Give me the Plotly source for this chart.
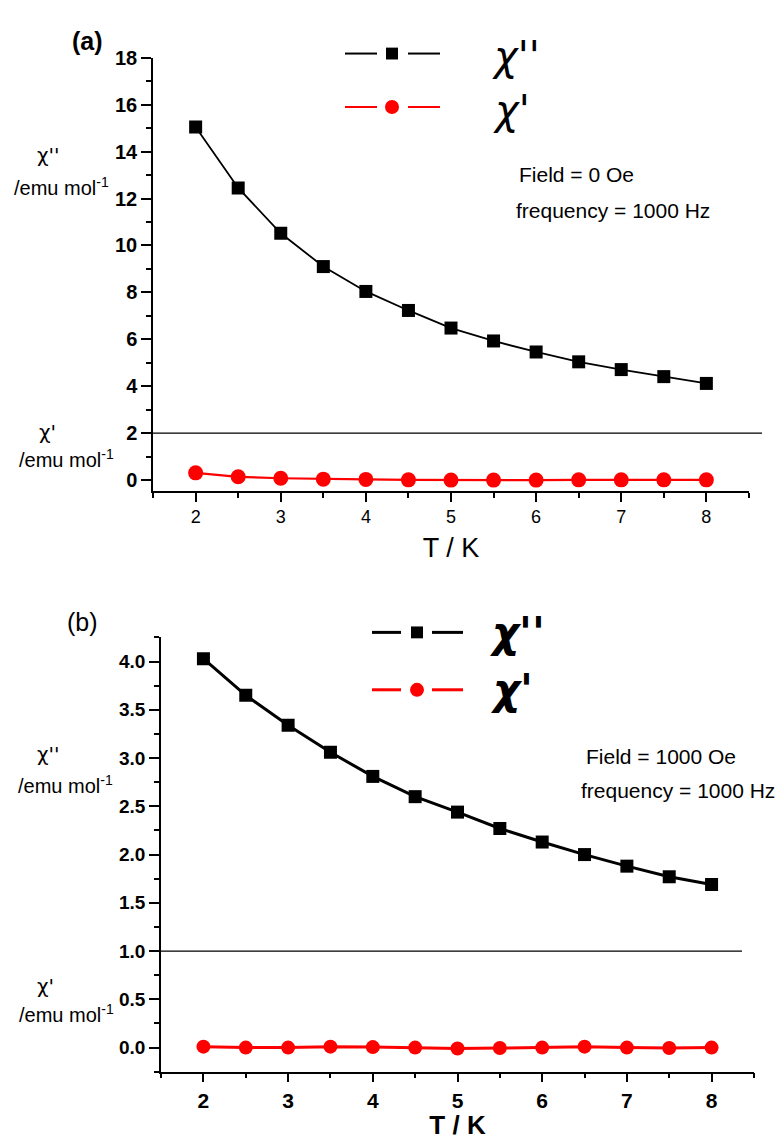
import plotly.graph_objects as go

# Temperature points (K)
T = [2, 2.5, 3, 3.5, 4, 4.5, 5, 5.5, 6, 6.5, 7, 7.5, 8]

# (a) zero applied field
chi_dd_a = [15.05, 12.45, 10.52, 9.10, 8.04, 7.23, 6.48, 5.93, 5.46, 5.04, 4.71, 4.41, 4.12]
chi_d_a = [0.31, 0.14, 0.08, 0.04, 0.03, 0.01, 0.0, 0.0, 0.0, 0.01, 0.01, 0.01, 0.01]

# (b) 1000 Oe applied field
chi_dd_b = [4.03, 3.65, 3.34, 3.06, 2.81, 2.60, 2.44, 2.27, 2.13, 2.00, 1.88, 1.77, 1.69]
chi_d_b = [0.01, 0.0, 0.0, 0.01, 0.005, 0.0, -0.01, -0.005, 0.0, 0.01, 0.0, -0.005, 0.0]

# axis tick values
x_ticks = [2, 3, 4, 5, 6, 7, 8]
y_ticks_a = [0, 2, 4, 6, 8, 10, 12, 14, 16, 18]
y_ticks_b = [0.0, 0.5, 1.0, 1.5, 2.0, 2.5, 3.0, 3.5, 4.0]

W, H = 784, 1140
FONT = "Arial, Liberation Sans, sans-serif"
GREEK = "DejaVu Sans, sans-serif"
RED = "#ff0000"


def px(x):
    return x / W


def py(y):
    return 1 - y / H


fig = go.Figure()

# panel (a)
fig.add_trace(go.Scatter(x=T, y=chi_dd_a, mode="lines+markers", xaxis="x", yaxis="y",
                         line=dict(color="black", width=1.8),
                         marker=dict(symbol="square", size=13, color="black"),
                         showlegend=False))
fig.add_trace(go.Scatter(x=T, y=chi_d_a, mode="lines+markers", xaxis="x", yaxis="y",
                         line=dict(color=RED, width=2.2),
                         marker=dict(symbol="circle", size=15, color=RED),
                         showlegend=False))

# panel (b)
fig.add_trace(go.Scatter(x=T, y=chi_dd_b, mode="lines+markers", xaxis="x2", yaxis="y2",
                         line=dict(color="black", width=3),
                         marker=dict(symbol="square", size=13, color="black"),
                         showlegend=False))
fig.add_trace(go.Scatter(x=T, y=chi_d_b, mode="lines+markers", xaxis="x2", yaxis="y2",
                         line=dict(color=RED, width=3),
                         marker=dict(symbol="circle", size=14, color=RED),
                         showlegend=False))

axis_common = dict(showgrid=False, zeroline=False, showline=True, linecolor="black",
                   linewidth=1.5, ticks="outside", tickcolor="black", tickwidth=1.5)


def bold(vals, fmt):
    return ["<b>" + fmt.format(v) + "</b>" for v in vals]


fig.update_layout(
    width=W, height=H,
    margin=dict(l=0, r=0, t=0, b=0),
    paper_bgcolor="white", plot_bgcolor="white",
    font=dict(family=FONT, color="black"),
    xaxis=dict(**axis_common, domain=[px(153), px(749)], anchor="y",
               range=[1.499, 8.501], tickvals=x_ticks, ticklen=9,
               minor=dict(dtick=0.5, tick0=1.5, ticklen=5, ticks="outside",
                          tickcolor="black", tickwidth=1.5),
               tickfont=dict(family=FONT, size=18),
               title=dict(text="T / K", font=dict(family=FONT, size=27), standoff=12)),
    yaxis=dict(**axis_common, domain=[py(485), py(47)], anchor="x",
               range=[-0.46, 18.01], tickvals=y_ticks_a,
               ticktext=bold(y_ticks_a, "{:d}"), ticklen=10,
               minor=dict(dtick=1, tick0=0, ticklen=5, ticks="outside",
                          tickcolor="black", tickwidth=1.5),
               tickfont=dict(family=FONT, size=20)),
    xaxis2=dict(**axis_common, domain=[px(161), px(754)], anchor="y2",
                range=[1.499, 8.501], tickvals=x_ticks,
                ticktext=bold(x_ticks, "{:d}"), ticklen=9,
                minor=dict(dtick=0.5, tick0=1.5, ticklen=5, ticks="outside",
                           tickcolor="black", tickwidth=1.5),
                tickfont=dict(family=FONT, size=21),
                title=dict(text="<b>T / K</b>", font=dict(family=FONT, size=26),
                           standoff=10)),
    yaxis2=dict(**axis_common, domain=[py(1072), py(633)], anchor="x2",
                range=[-0.25, 4.251], tickvals=y_ticks_b,
                ticktext=bold(y_ticks_b, "{:.1f}"), ticklen=10,
                minor=dict(dtick=0.25, tick0=0, ticklen=5, ticks="outside",
                           tickcolor="black", tickwidth=1.5),
                tickfont=dict(family=FONT, size=19)),
)

shapes = []
# separators between the χ'' and χ' scales
shapes.append(dict(type="line", xref="paper", yref="y", x0=px(153), x1=px(762), y0=2, y1=2,
                   line=dict(color="black", width=1.3)))
shapes.append(dict(type="line", xref="paper", yref="y2", x0=px(161), x1=px(742), y0=1, y1=1,
                   line=dict(color="black", width=1.3)))


def legend_key(y, xl0, xl1, xr0, xr1, xc, color, symbol, size, lw):
    out = []
    for a, b in ((xl0, xl1), (xr0, xr1)):
        out.append(dict(type="line", xref="paper", yref="paper", x0=px(a), x1=px(b),
                        y0=py(y), y1=py(y), line=dict(color=color, width=lw)))
    h = size / 2
    out.append(dict(type="rect" if symbol == "square" else "circle",
                    xref="paper", yref="paper",
                    x0=px(xc - h), x1=px(xc + h), y0=py(y + h), y1=py(y - h),
                    fillcolor=color, line=dict(color=color, width=0)))
    return out


shapes += legend_key(43, 345, 377, 408, 440, 392, "black", "square", 12, 2)
shapes += legend_key(97, 345, 377, 408, 440, 392, RED, "circle", 14, 2)
shapes += legend_key(628, 372, 401, 432, 463, 417, "black", "square", 12, 3)
shapes += legend_key(686, 372, 401, 432, 463, 417, RED, "circle", 14, 3)
fig.update_layout(shapes=shapes)


def note(text, x, y, size, xanchor="center", family=FONT):
    return dict(text=text, x=px(x), y=py(y), xref="paper", yref="paper",
                xanchor=xanchor, yanchor="middle", showarrow=False,
                font=dict(family=family, size=size, color="black"))


annotations = [
    note("<b>(a)</b>", 87, 30, 25),
    note("(b)", 82, 617, 25),
    # legend labels
    note("<i>χ</i>''", 516, 45, 40, family=GREEK),
    note("<i>χ</i>'", 512, 100, 40, family=GREEK),
    note("<b><i>χ</i>''</b>", 517, 628, 42, family=GREEK),
    note("<b><i>χ</i>'</b>", 511, 686, 42, family=GREEK),
    # measurement conditions
    note("Field = 0 Oe", 517, 165, 21, xanchor="left"),
    note("frequency = 1000 Hz", 514, 202, 21, xanchor="left"),
    note("Field = 1000 Oe", 584, 753, 21, xanchor="left"),
    note("frequency = 1000 Hz", 579, 788, 21, xanchor="left"),
    # y-axis titles
    note("χ''", 48, 146, 20, family=GREEK),
    note("/emu mol<sup>-1</sup>", 61, 177, 20),
    note("χ'", 47, 425, 20, family=GREEK),
    note("/emu mol<sup>-1</sup>", 66, 452, 20),
    note("χ''", 48, 751, 20, family=GREEK),
    note("/emu mol<sup>-1</sup>", 65, 782, 20),
    note("χ'", 45, 985, 20, family=GREEK),
    note("/emu mol<sup>-1</sup>", 66, 1013, 20),
]
fig.update_layout(annotations=annotations)

fig.write_html("out.html")
